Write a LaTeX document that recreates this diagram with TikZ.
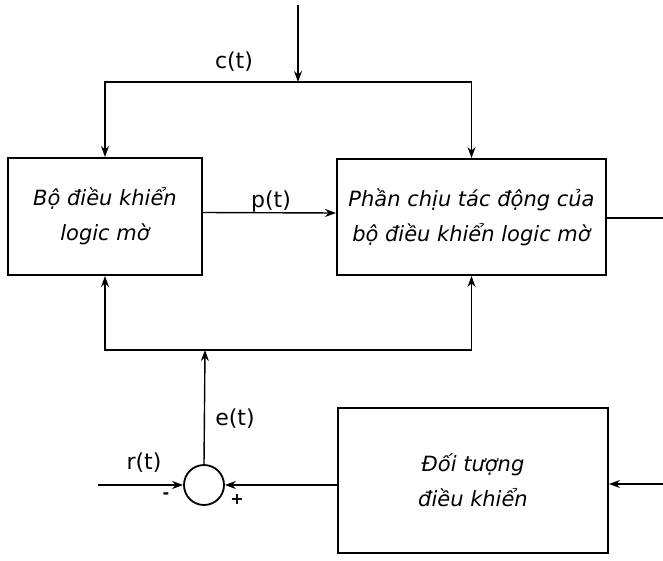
\documentclass[tikz,border=0pt]{standalone}
\usepackage{fontspec}
\setmainfont{DejaVu Sans}
\usetikzlibrary{arrows.meta}
\begin{document}
\begin{tikzpicture}[x=1pt,y=-1pt,
  blk/.style={draw,line width=2pt,inner sep=0pt,align=center,
    font=\fontsize{21}{35}\selectfont\itshape},
  wire/.style={line width=1.4pt},
  arr/.style={wire,-{Stealth[length=11pt,width=8pt]}},
  lbl/.style={font=\fontsize{22}{24}\selectfont},
  sgn/.style={font=\fontsize{16}{16}\selectfont\bfseries}]
\useasboundingbox (0,0) rectangle (663,561);

% blocks
\node[blk,minimum width=194pt,minimum height=117pt] (flc) at (105,216.5)
  {Bộ điều khiển\\logic mờ};
\node[blk,minimum width=269pt,minimum height=116pt] (act) at (471.5,217)
  {Phần chịu tác động của\\bộ điều khiển logic mờ};
\node[blk,minimum width=270pt,minimum height=145pt] (plant) at (473,480.5)
  {Đối tượng\\điều khiển};
\node[draw,circle,line width=1.8pt,minimum size=40pt,inner sep=0pt] (sum) at (204,485) {};

% free ends and junctions
\coordinate (cin) at (298,5);
\coordinate (cj) at (298,82);
\coordinate (fb) at (205,350);
\coordinate (rin) at (98,485);
\coordinate (uin) at (663,484);
\coordinate (out) at (663,218);

% c(t) distribution
\draw[arr] (cin) -- (cj);
\draw[arr] (cj) -| (flc.north);
\draw[arr] (cj) -| (act.north);
\node[lbl] (cl) at (234,62) {c(t)};

% p(t)
\draw[arr] ([yshift=4pt]flc.east) -- ([yshift=4pt]act.west);
\node[lbl] (pl) at (271,201) {p(t)};

% output line
\draw[wire] (act.east |- out) -- (out);

% e(t) feedback to both upper blocks
\draw[arr] (sum.north) -- (fb);
\draw[arr] (fb) -| (flc.south);
\draw[arr] (fb) -| (act.south);
\node[lbl] (el) at (235,419) {e(t)};

% summing junction inputs
\draw[arr] (rin) -- (sum.west);
\node[lbl] (rl) at (144,463) {r(t)};
\node[sgn] (minus) at (166,496) {-};
\node[sgn] (plus) at (237,499) {+};
\draw[arr] (plant.west |- sum) -- (sum.east);

% plant input
\draw[arr] (uin) -- (plant.east |- uin);
\end{tikzpicture}
\end{document}
